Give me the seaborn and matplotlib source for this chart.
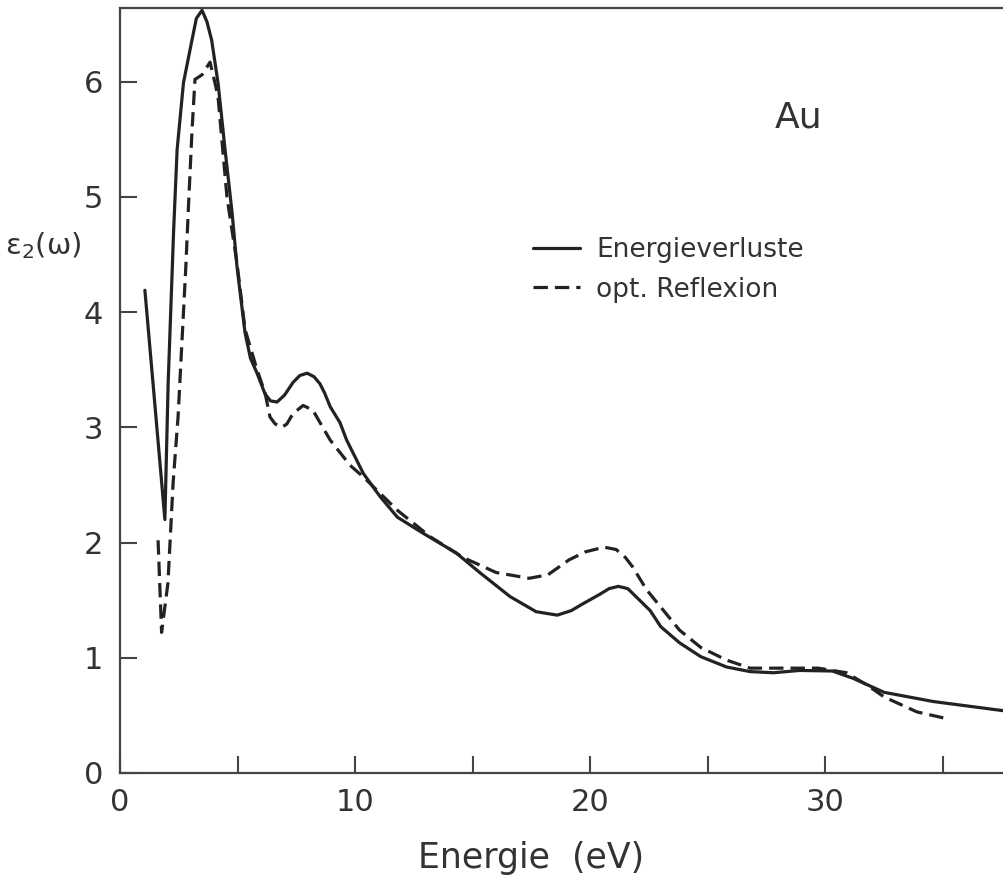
import pandas as pd
import matplotlib
matplotlib.use("Agg")
import matplotlib.pyplot as plt
import seaborn as sns
from matplotlib.ticker import MultipleLocator

# Energieverluste (solid curve)
e_loss_x = [1.06, 1.5, 1.91, 2.05, 2.28, 2.43, 2.7, 3.06, 3.25, 3.49, 3.7, 3.9,
            4.17, 4.47, 4.77, 4.98, 5.32, 5.55, 5.83, 6.17, 6.4, 6.68, 7.0, 7.36,
            7.65, 7.96, 8.25, 8.5, 8.7, 8.94, 9.36, 9.64, 10.35, 11.06, 11.8,
            12.9, 14.3, 15.3, 16.6, 17.7, 18.6, 19.2, 19.7, 20.4, 20.8, 21.2,
            21.6, 22.1, 22.55, 23.0, 23.8, 24.7, 25.8, 26.8, 27.8, 28.9, 30.3,
            31.2, 32.5, 34.6, 37.6]
e_loss_y = [4.19, 3.16, 2.2, 3.39, 4.7, 5.41, 5.99, 6.36, 6.55, 6.62, 6.52, 6.36,
            5.99, 5.41, 4.86, 4.39, 3.82, 3.6, 3.47, 3.29, 3.23, 3.22, 3.28, 3.39,
            3.45, 3.47, 3.44, 3.38, 3.3, 3.18, 3.04, 2.89, 2.6, 2.4, 2.22,
            2.08, 1.91, 1.74, 1.53, 1.4, 1.37, 1.41, 1.47, 1.55, 1.6, 1.62,
            1.6, 1.5, 1.41, 1.27, 1.13, 1.01, 0.92, 0.88, 0.87, 0.89, 0.885,
            0.82, 0.70, 0.62, 0.54]

# opt. Reflexion (dashed curve)
refl_x = [1.62, 1.77, 2.04, 2.26, 2.47, 2.8, 2.9, 3.06, 3.19, 3.49, 3.83, 4.04,
          4.17, 4.55, 4.98, 5.32, 5.83, 6.17, 6.38, 6.6, 6.89, 7.1, 7.36, 7.79,
          8.2, 8.94, 9.79, 10.35, 11.8, 13.2, 14.6, 16.0, 17.4, 18.2, 19.1,
          19.8, 20.6, 21.1, 21.5, 21.8, 22.4, 23.0, 23.8, 24.7, 25.8, 26.8,
          28.2, 29.7, 30.9, 31.8, 32.5, 33.9, 35.2]
refl_y = [2.02, 1.22, 1.65, 2.52, 3.09, 4.39, 4.86, 5.56, 6.02, 6.06, 6.17, 5.99,
          5.87, 5.0, 4.42, 3.85, 3.5, 3.3, 3.09, 3.03, 3.0, 3.03, 3.12, 3.19,
          3.15, 2.89, 2.67, 2.57, 2.28, 2.05, 1.87, 1.74, 1.69, 1.72, 1.85,
          1.92, 1.96, 1.94, 1.87, 1.79, 1.59, 1.44, 1.24, 1.09, 0.98, 0.91,
          0.91, 0.91, 0.87, 0.76, 0.66, 0.53, 0.47]

labels = ["Energieverluste", "opt. Reflexion"]

df = pd.concat([
    pd.DataFrame({"E": e_loss_x, "eps2": e_loss_y, "Kurve": labels[0]}),
    pd.DataFrame({"E": refl_x, "eps2": refl_y, "Kurve": labels[1]}),
])

sns.set_style("ticks")
plt.rcParams["font.family"] = ["DejaVu Sans"]
plt.rcParams["lines.solid_joinstyle"] = "round"
plt.rcParams["lines.dash_joinstyle"] = "round"
ink = "#222222"
txt = "#333333"

fig = plt.figure(figsize=(10.04, 8.89), dpi=100)
ax = fig.add_axes([0.1195, 0.1305, 0.8805, 0.8605])

sns.lineplot(data=df, x="E", y="eps2", style="Kurve", style_order=labels,
             dashes={labels[0]: "", labels[1]: (4.5, 2.2)},
             color=ink, linewidth=2.3, estimator=None, sort=False, ax=ax)

ax.set_xlim(0, 37.6)
ax.set_ylim(0, 6.64)
ax.xaxis.set_major_locator(MultipleLocator(10))
ax.xaxis.set_minor_locator(MultipleLocator(5))
ax.yaxis.set_major_locator(MultipleLocator(1))

for side in ["left", "bottom", "top"]:
    ax.spines[side].set_color("#444444")
    ax.spines[side].set_linewidth(1.6)
ax.spines["right"].set_visible(False)

ax.tick_params(axis="both", which="both", direction="in", length=12, width=1.5,
               color="#444444", labelsize=22, labelcolor=txt)
ax.tick_params(axis="x", which="major", pad=11)
ax.tick_params(axis="y", which="major", pad=12)

ax.set_xlabel("Energie  (eV)", fontsize=25, color=txt, va="center")
ax.xaxis.set_label_coords(0.465, -0.111)
ax.set_ylabel("ε$_2$(ω)", fontsize=21, color=txt, rotation=0, va="center")
ax.yaxis.set_label_coords(-0.087, 0.69)

ax.text(28.85, 5.69, "Au", fontsize=26, color=txt, ha="center", va="center")

ax.legend(loc="upper left", bbox_to_anchor=(0.467, 0.70), frameon=False,
          fontsize=19, handlelength=1.8, handletextpad=0.6, labelspacing=0.5,
          borderaxespad=0, borderpad=0, labelcolor=txt)

fig.savefig("out.png", dpi=100)
